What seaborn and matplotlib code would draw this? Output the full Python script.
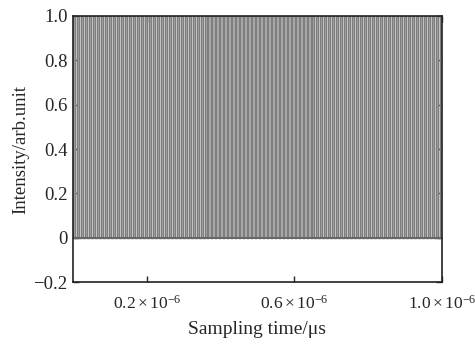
import numpy as np
import pandas as pd
import seaborn as sns
import matplotlib.pyplot as plt

# Parametros do trem de pulsos
t_inicio = 0.0
t_fim = 1.0e-6
periodo_pulso = 1.08e-8      # ~4 px por periodo na figura
largura_pulso = 0.6          # fracao do periodo em nivel alto
nivel_alto = 1.0
nivel_baixo = 0.0

xticks = [0.2e-6, 0.6e-6, 1.0e-6]
xtick_labels = [r'$0.2\times10^{-6}$', r'$0.6\times10^{-6}$', r'$1.0\times10^{-6}$']
yticks = [-0.2, 0, 0.2, 0.4, 0.6, 0.8, 1.0]
ytick_labels = ['\u22120.2', '0', '0.2', '0.4', '0.6', '0.8', '1.0']

# Montar a onda quadrada (bordas verticais)
inicios = np.arange(t_inicio, t_fim, periodo_pulso)
tempo, intensidade = [], []
for t0 in inicios:
    t1 = min(t0 + largura_pulso * periodo_pulso, t_fim)
    tempo += [t0, t0, t1, t1]
    intensidade += [nivel_baixo, nivel_alto, nivel_alto, nivel_baixo]
sinal = pd.DataFrame({'tempo': tempo, 'intensidade': intensidade})

sns.set_style('ticks')
plt.rcParams['font.family'] = ['Liberation Serif', 'DejaVu Serif']
plt.rcParams['mathtext.fontset'] = 'custom'
plt.rcParams['mathtext.rm'] = 'Liberation Serif'
plt.rcParams['mathtext.it'] = 'Liberation Serif:italic'

fig = plt.figure(figsize=(4.75, 3.44), dpi=100)
ax = fig.add_axes([0.1537, 0.1802, 0.7768, 0.7733])

ax.fill_between(sinal['tempo'], sinal['intensidade'], color='#b4b4b4', linewidth=0)
sns.lineplot(data=sinal, x='tempo', y='intensidade', sort=False, estimator=None,
             color='#7e7e7e', linewidth=1.05, ax=ax)
ax.axhline(0, color='#666666', linewidth=1.5)

ax.set_xlim(t_inicio, t_fim)
ax.set_ylim(-0.2, 1.0)
ax.set_xticks(xticks)
ax.set_xticklabels(xtick_labels, fontsize=12.5)
ax.set_yticks(yticks)
ax.set_yticklabels(ytick_labels, fontsize=13.5)
ax.tick_params(axis='y', direction='in', length=4, width=1, right=True, pad=4)
ax.tick_params(axis='x', direction='in', length=4, width=1, top=True, pad=9)
ax.set_xlabel('Sampling time/\u03bcs', fontsize=14, labelpad=6)
ax.set_ylabel('Intensity/arb.unit', fontsize=13.5, labelpad=3)
for s in ax.spines.values():
    s.set_linewidth(1.2)
    s.set_color('#222222')

plt.savefig('out.png', dpi=100)
